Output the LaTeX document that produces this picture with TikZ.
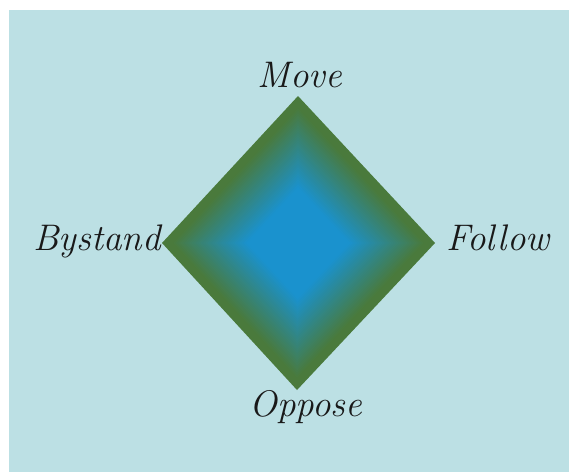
\documentclass[tikz,border=0pt]{standalone}
\usepackage{fontspec}
\definecolor{bgblue}{RGB}{188,224,228}
\definecolor{dgreen}{RGB}{74,122,60}
\definecolor{dblue}{RGB}{26,146,206}
\begin{document}
\begin{tikzpicture}[x=1pt,y=-1pt,
  lbl/.style={font=\fontsize{37}{40}\selectfont\itshape, text=black!90, anchor=base, inner sep=0pt}]
\useasboundingbox (0,0) rectangle (569,472);
\fill[white] (0,0) rectangle (569,472);
\fill[bgblue] (9,10) rectangle (569,472);
\coordinate (c) at (298,243);
\foreach \i in {0,...,59}{
  \pgfmathsetmacro\s{1-\i/60}
  \pgfmathsetmacro\p{max(0,min(100,(0.93-\s)/0.55*100))}
  \fill[dblue!\p!dgreen, shift={(c)}, scale=\s] (0,-147) -- (137,0) -- (-1,147) -- (-136,0) -- cycle;
}
\coordinate (top) at (298,96);
\coordinate (bot) at (297,390);
\coordinate (lft) at (162,243);
\coordinate (rgt) at (435,243);
\node[lbl] (move) at (300,87) {Move};
\node[lbl] (bystand) at (97,250) {Bystand};
\node[lbl] (follow) at (498,250) {Follow};
\node[lbl] (oppose) at (306,416) {Oppose};
\end{tikzpicture}
\end{document}
